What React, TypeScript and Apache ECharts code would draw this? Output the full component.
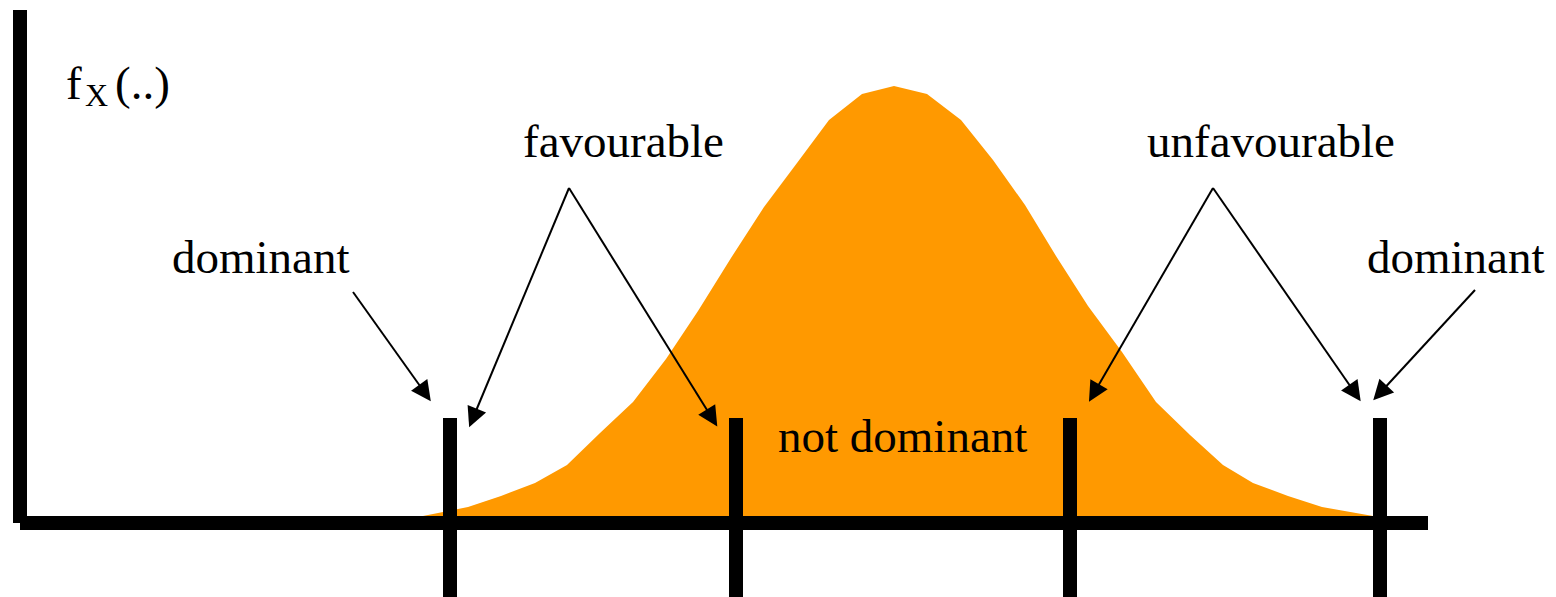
import React, { useEffect, useRef } from "react";
import * as echarts from "echarts";

// Density curve (x, f_X(x)) in chart units
const curveX = [403, 448, 481, 515, 547, 580, 613, 646, 678, 711, 744, 777, 809, 842, 874, 907, 941, 973, 1005, 1036, 1068, 1102, 1136, 1170, 1203, 1233, 1268, 1302, 1353];
const curveY = [7, 16, 27, 40, 58, 90, 121, 164, 212, 265, 316, 360, 403, 429, 437, 429, 403, 363, 318, 267, 217, 171, 121, 88, 58, 40, 27, 16, 7];

// Threshold markers on the x axis
const thresholdX = [430, 716, 1050, 1360];
const thresholdTop = 105;
const thresholdBottom = -80;

// Annotation arrows: [fromX, fromY] -> [toX, toY]
const arrowFrom = [[333, 231], [549, 335], [549, 335], [1193, 335], [1193, 335], [1455, 233]];
const arrowTo = [[405, 130], [453, 105], [692, 105], [1074, 130], [1335, 130], [1360, 130]];

// Labels
const labelTexts = ["favourable", "unfavourable", "dominant", "dominant", "not dominant"];

const FONT = '"Liberation Serif", "Times New Roman", serif';
const SIZE = 47;
const mid = (baseline: number, size: number) => baseline - 0.3375 * size;

export default function App() {
  const ref = useRef<HTMLDivElement>(null);
  useEffect(() => {
    document.body.style.margin = "0";
    if (!ref.current) return;
    const chart = echarts.init(ref.current, undefined, { renderer: "svg" });
    const txt = (text: string, x: number, baseline: number, size = SIZE) => ({
      type: "text",
      x,
      y: mid(baseline, size),
      style: { text, fill: "#000", font: `${size}px ${FONT}`, align: "left", verticalAlign: "middle" },
      z: 20,
    });
    const axisCommon = {
      type: "value",
      z: 4,
      axisLine: { show: true, lineStyle: { color: "#000", width: 14, cap: "butt" } },
      axisTick: { show: false },
      axisLabel: { show: false },
      splitLine: { show: false },
    };
    chart.setOption({
      animation: false,
      backgroundColor: "#fff",
      grid: { left: 20, right: 128, top: 10, bottom: 74 },
      xAxis: { ...axisCommon, min: 0, max: 1408 },
      yAxis: { ...axisCommon, min: 0, max: 513 },
      series: [
        {
          type: "line",
          data: curveX.map((x, i) => [x, curveY[i]]),
          showSymbol: false,
          symbol: "none",
          lineStyle: { width: 0 },
          areaStyle: { color: "#FF9900", opacity: 1 },
          z: 1,
        },
        {
          type: "lines",
          coordinateSystem: "cartesian2d",
          clip: false,
          z: 6,
          symbol: "none",
          lineStyle: { color: "#000", width: 14, opacity: 1, cap: "butt" },
          data: thresholdX.map((x) => ({ coords: [[x, thresholdTop], [x, thresholdBottom]] })),
        },
        {
          type: "lines",
          coordinateSystem: "cartesian2d",
          clip: false,
          z: 7,
          symbol: ["none", "triangle"],
          symbolSize: 20,
          lineStyle: { color: "#000", width: 2, opacity: 1 },
          itemStyle: { color: "#000" },
          data: arrowFrom.map((f, i) => ({ coords: [f, arrowTo[i]] })),
        },
      ],
      graphic: [
        txt(labelTexts[0], 523, 157),
        txt(labelTexts[1], 1147, 157),
        txt(labelTexts[2], 172, 273),
        txt(labelTexts[3], 1367, 273),
        txt(labelTexts[4], 778, 452),
        txt("f", 66, 99),
        txt("X", 85, 106, 32),
        txt("(..)", 115, 99),
      ],
    });
    return () => chart.dispose();
  }, []);
  return <div ref={ref} style={{ width: 1556, height: 597 }} />;
}
